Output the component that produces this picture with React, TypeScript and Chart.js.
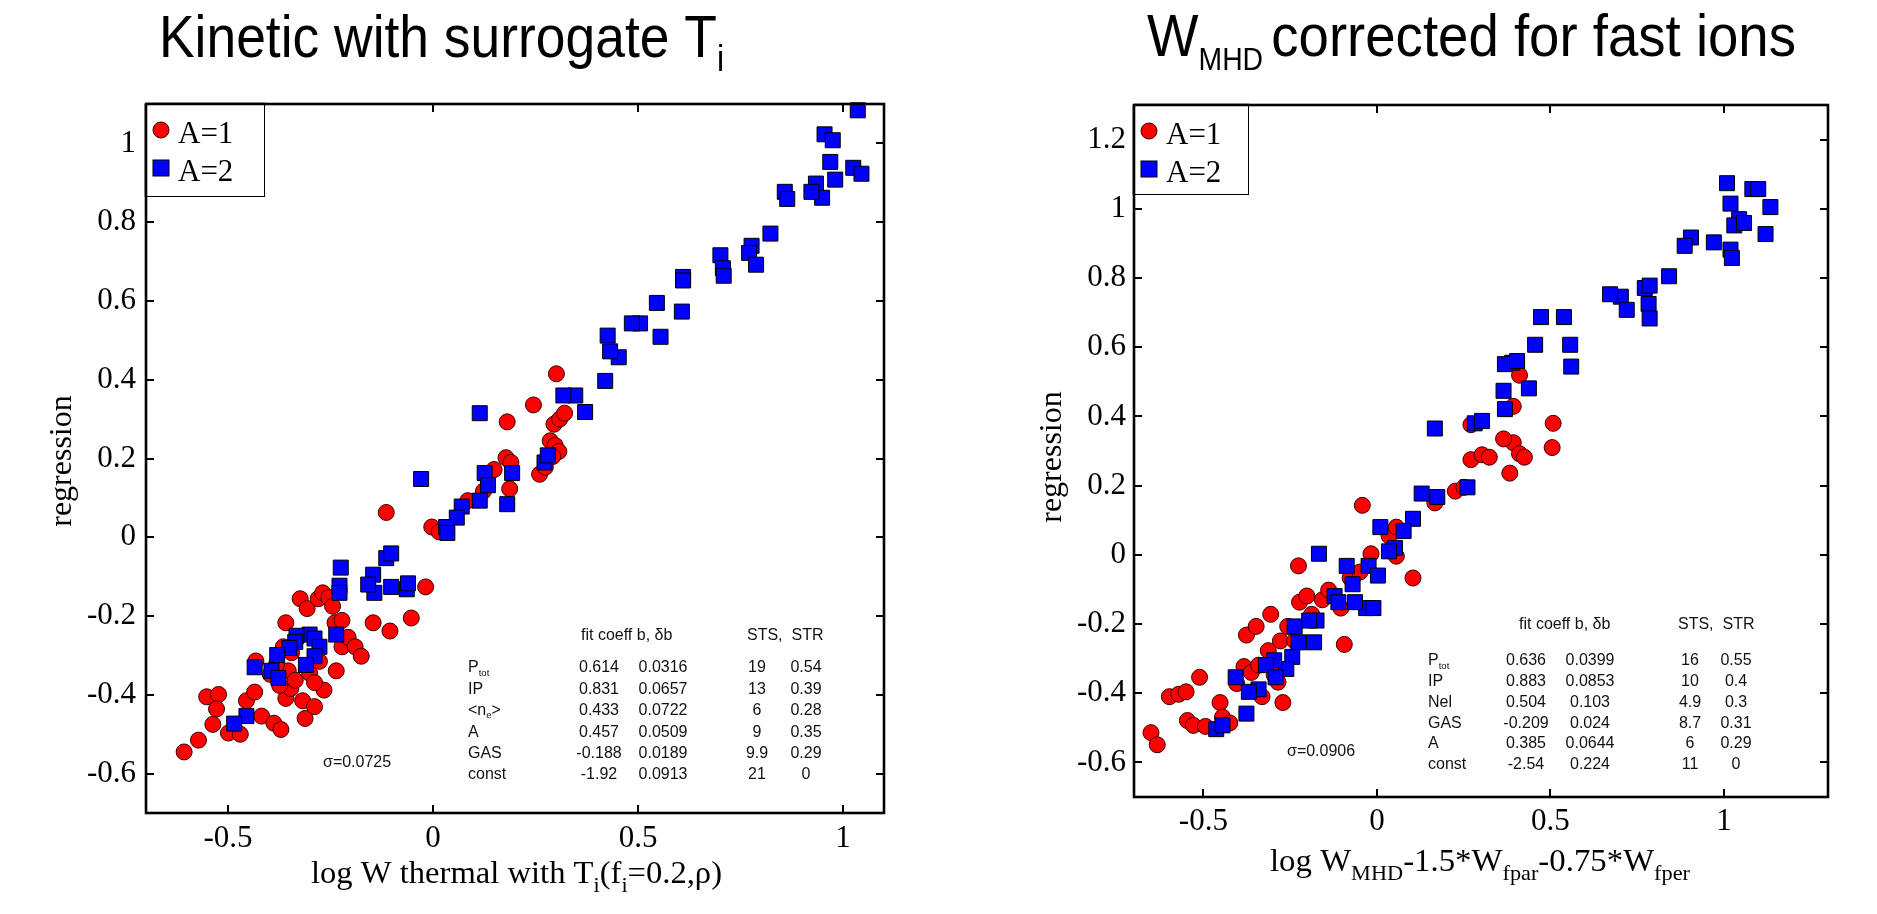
import React, { useEffect, useRef } from "react";
import { Chart, registerables } from "chart.js";

Chart.register(...registerables);

// ---------------- DATA ----------------
// Left panel: "Kinetic with surrogate Ti"  [x = log W thermal, y = regression]
const leftA1: [number, number][] = [
  [-0.607, -0.545], [-0.572, -0.515], [-0.537, -0.475], [-0.499, -0.497], [-0.47, -0.5],
  [-0.552, -0.405], [-0.523, -0.399], [-0.528, -0.436], [-0.455, -0.415], [-0.435, -0.393],
  [-0.418, -0.454], [-0.388, -0.472], [-0.371, -0.488], [-0.359, -0.409], [-0.347, -0.384],
  [-0.353, -0.339], [-0.365, -0.278], [-0.345, -0.293], [-0.33, -0.254], [-0.359, -0.217],
  [-0.324, -0.156], [-0.307, -0.181], [-0.301, -0.345], [-0.312, -0.46], [-0.28, -0.156],
  [-0.269, -0.141], [-0.254, -0.153], [-0.245, -0.175], [-0.239, -0.217], [-0.222, -0.278],
  [-0.277, -0.315], [-0.266, -0.388], [-0.289, -0.369], [-0.236, -0.339], [-0.207, -0.254],
  [-0.19, -0.278], [-0.175, -0.302], [-0.146, -0.217], [-0.114, 0.063], [-0.105, -0.238],
  [-0.053, -0.205], [-0.018, -0.126], [-0.003, 0.026], [0.015, 0.014], [0.085, 0.093],
  [0.123, 0.117], [0.187, 0.123], [0.181, 0.293], [0.245, 0.336], [0.26, 0.16],
  [0.274, 0.178], [0.286, 0.245], [0.298, 0.233], [0.307, 0.218], [0.292, 0.205],
  [0.295, 0.287], [0.309, 0.3], [0.301, 0.415], [0.321, 0.315], [0.178, 0.202],
  [0.19, 0.19], [0.149, 0.172], [-0.432, -0.314], [-0.397, -0.348], [-0.382, -0.324],
  [-0.374, -0.376], [-0.336, -0.363], [-0.318, -0.415], [-0.289, -0.43], [-0.222, -0.211],
];
const leftA2: [number, number][] = [
  [1.036, 1.084], [0.955, 1.023], [0.975, 1.008], [1.025, 0.938], [0.969, 0.953],
  [1.045, 0.923], [0.981, 0.908], [0.934, 0.898], [0.949, 0.862], [0.923, 0.877],
  [0.858, 0.877], [0.864, 0.859], [0.823, 0.771], [0.777, 0.74], [0.771, 0.722],
  [0.701, 0.716], [0.707, 0.683], [0.709, 0.664], [0.788, 0.692], [0.61, 0.661],
  [0.61, 0.652], [0.607, 0.573], [0.546, 0.595], [0.555, 0.509], [0.505, 0.543],
  [0.485, 0.543], [0.453, 0.457], [0.432, 0.472], [0.426, 0.512], [0.42, 0.397],
  [0.371, 0.318], [0.347, 0.36], [0.318, 0.36], [0.272, 0.19], [0.28, 0.208],
  [0.193, 0.163], [0.181, 0.084], [0.114, 0.315], [0.126, 0.163], [0.134, 0.132],
  [0.114, 0.093], [0.07, 0.078], [0.058, 0.05], [0.032, 0.026], [0.035, 0.011],
  [-0.029, 0.148], [-0.064, -0.132], [-0.061, -0.117], [-0.102, -0.126], [-0.114, -0.053],
  [-0.102, -0.041], [-0.146, -0.095], [-0.143, -0.141], [-0.225, -0.077], [-0.228, -0.123],
  [-0.228, -0.141], [-0.158, -0.12], [-0.301, -0.247], [-0.289, -0.257], [-0.277, -0.278],
  [-0.333, -0.25], [-0.336, -0.266], [-0.35, -0.281], [-0.289, -0.302], [-0.38, -0.299],
  [-0.394, -0.339], [-0.377, -0.357], [-0.435, -0.33], [-0.455, -0.454], [-0.485, -0.473],
  [-0.236, -0.247], [-0.31, -0.324],
];

// Right panel: "W_MHD corrected for fast ions"
const rightA1: [number, number][] = [
  [-0.651, -0.514], [-0.633, -0.549], [-0.598, -0.41], [-0.571, -0.403], [-0.55, -0.396],
  [-0.546, -0.479], [-0.529, -0.493], [-0.494, -0.496], [-0.511, -0.354], [-0.452, -0.427],
  [-0.445, -0.469], [-0.424, -0.486], [-0.404, -0.372], [-0.383, -0.323], [-0.362, -0.34],
  [-0.348, -0.393], [-0.331, -0.41], [-0.341, -0.319], [-0.313, -0.277], [-0.296, -0.347],
  [-0.285, -0.368], [-0.271, -0.427], [-0.278, -0.249], [-0.257, -0.207], [-0.237, -0.249],
  [-0.223, -0.137], [-0.202, -0.119], [-0.226, -0.032], [-0.188, -0.172], [-0.157, -0.13],
  [-0.139, -0.102], [-0.104, -0.154], [-0.094, -0.259], [-0.077, -0.067], [-0.049, -0.05],
  [-0.017, 0.003], [-0.042, 0.143], [0.035, 0.055], [0.056, 0.08], [0.104, -0.067],
  [0.056, -0.004], [0.167, 0.15], [0.226, 0.184], [0.251, 0.195], [0.271, 0.275],
  [0.271, 0.376], [0.303, 0.289], [0.324, 0.282], [0.383, 0.236], [0.393, 0.324],
  [0.411, 0.292], [0.425, 0.282], [0.393, 0.429], [0.411, 0.519], [0.508, 0.38],
  [0.505, 0.31], [0.365, 0.335], [-0.306, -0.172], [-0.376, -0.232], [-0.348, -0.207],
];
const rightA2: [number, number][] = [
  [1.009, 1.074], [1.082, 1.057], [1.099, 1.057], [1.019, 1.015], [1.134, 1.005],
  [1.044, 0.97], [1.03, 0.952], [1.058, 0.959], [0.971, 0.903], [1.019, 0.882],
  [1.023, 0.858], [1.12, 0.927], [0.905, 0.917], [0.887, 0.893], [0.842, 0.805],
  [0.772, 0.771], [0.786, 0.778], [0.783, 0.725], [0.703, 0.746], [0.672, 0.753],
  [0.72, 0.708], [0.786, 0.683], [0.539, 0.687], [0.473, 0.687], [0.456, 0.607],
  [0.557, 0.607], [0.56, 0.544], [0.39, 0.555], [0.369, 0.551], [0.404, 0.56],
  [0.438, 0.481], [0.365, 0.474], [0.369, 0.421], [0.282, 0.38], [0.303, 0.387],
  [0.167, 0.365], [0.174, 0.167], [0.261, 0.195], [0.129, 0.177], [0.104, 0.104],
  [0.077, 0.069], [0.052, 0.02], [0.035, 0.01], [0.01, 0.08], [-0.024, -0.032],
  [0.003, -0.06], [-0.031, -0.154], [-0.01, -0.154], [-0.063, -0.137], [-0.087, -0.032],
  [-0.122, -0.119], [-0.111, -0.137], [-0.167, 0.003], [-0.174, -0.19], [-0.181, -0.253],
  [-0.226, -0.253], [-0.244, -0.295], [-0.261, -0.33], [-0.296, -0.305], [-0.32, -0.319],
  [-0.292, -0.354], [-0.341, -0.389], [-0.369, -0.396], [-0.376, -0.459], [-0.407, -0.354],
  [-0.463, -0.504], [-0.445, -0.493], [-0.237, -0.207], [-0.195, -0.19], [-0.07, -0.085],
];

const leftXTicks = [-0.5, 0, 0.5, 1];
const leftYTicks = [-0.6, -0.4, -0.2, 0, 0.2, 0.4, 0.6, 0.8, 1];
const rightXTicks = [-0.5, 0, 0.5, 1];
const rightYTicks = [-0.6, -0.4, -0.2, 0, 0.2, 0.4, 0.6, 0.8, 1, 1.2];

const legendLabels = ["A=1", "A=2"];

const leftTableVars = ["P_{tot}", "IP", "<n_{e}>", "A", "GAS", "const"];
const leftCoefB = ["0.614", "0.831", "0.433", "0.457", "-0.188", "-1.92"];
const leftDeltaB = ["0.0316", "0.0657", "0.0722", "0.0509", "0.0189", "0.0913"];
const leftSTS = ["19", "13", "6", "9", "9.9", "21"];
const leftSTR = ["0.54", "0.39", "0.28", "0.35", "0.29", "0"];
const leftSigma = "σ=0.0725";

const rightTableVars = ["P_{tot}", "IP", "Nel", "GAS", "A", "const"];
const rightCoefB = ["0.636", "0.883", "0.504", "-0.209", "0.385", "-2.54"];
const rightDeltaB = ["0.0399", "0.0853", "0.103", "0.024", "0.0644", "0.224"];
const rightSTS = ["16", "10", "4.9", "8.7", "6", "11"];
const rightSTR = ["0.55", "0.4", "0.3", "0.31", "0.29", "0"];
const rightSigma = "σ=0.0906";

const tableHeader1 = "fit coeff b, δb";
const tableHeader2 = "STS,  STR";

const leftTitle = "Kinetic with surrogate T_{i}";
const rightTitle = "W_{MHD}corrected for fast ions";
const leftXLabel = "log W thermal with T_{i}(f_{i}=0.2,ρ)";
const rightXLabel = "log W_{MHD}-1.5*W_{fpar}-0.75*W_{fper}";
const yLabel = "regression";

// ---------------- DRAW HELPERS ----------------
const SERIF = "'Liberation Serif', 'Times New Roman', serif";
const SANS = "'Liberation Sans', Arial, sans-serif";

type Piece = { t: string; sub: boolean };
function parseRich(s: string): Piece[] {
  const out: Piece[] = [];
  const re = /_\{([^}]*)\}/g;
  let last = 0;
  let m: RegExpExecArray | null;
  while ((m = re.exec(s))) {
    if (m.index > last) out.push({ t: s.slice(last, m.index), sub: false });
    out.push({ t: m[1], sub: true });
    last = m.index + m[0].length;
  }
  if (last < s.length) out.push({ t: s.slice(last), sub: false });
  return out;
}

type RichOpt = {
  size: number;
  family: string;
  subScale?: number;
  subDy?: number;
  targetWidth?: number;
  align?: "left" | "center";
  rotate?: boolean;
  baseline?: CanvasTextBaseline;
  color?: string;
  gapAfterSub?: number;
};

function drawRich(ctx: CanvasRenderingContext2D, s: string, x: number, y: number, o: RichOpt) {
  const pieces = parseRich(s);
  const subSize = o.size * (o.subScale ?? 0.65);
  const subDy = o.subDy ?? o.size * 0.28;
  const gap = o.gapAfterSub ?? 0;
  ctx.save();
  ctx.fillStyle = o.color ?? "#000";
  ctx.textAlign = "left";
  ctx.textBaseline = o.baseline ?? "alphabetic";
  let total = 0;
  const widths = pieces.map((p) => {
    ctx.font = `${p.sub ? subSize : o.size}px ${o.family}`;
    const w = ctx.measureText(p.t).width + (p.sub ? gap : 0);
    total += w;
    return w;
  });
  const sx = o.targetWidth ? o.targetWidth / total : 1;
  ctx.translate(x, y);
  if (o.rotate) ctx.rotate(-Math.PI / 2);
  if (o.align === "center") ctx.translate((-total * sx) / 2, 0);
  ctx.scale(sx, 1);
  let cx = 0;
  pieces.forEach((p, i) => {
    ctx.font = `${p.sub ? subSize : o.size}px ${o.family}`;
    ctx.fillText(p.t, cx, p.sub ? subDy : 0);
    cx += widths[i];
  });
  ctx.restore();
}

function drawCircle(ctx: CanvasRenderingContext2D, x: number, y: number, r: number) {
  ctx.beginPath();
  ctx.arc(x, y, r, 0, Math.PI * 2);
  ctx.fillStyle = "#ff0000";
  ctx.fill();
  ctx.lineWidth = 1;
  ctx.strokeStyle = "#3a0000";
  ctx.stroke();
}
function drawSquare(ctx: CanvasRenderingContext2D, x: number, y: number, side: number) {
  ctx.fillStyle = "#0000ff";
  ctx.fillRect(x - side / 2, y - side / 2, side, side);
  ctx.lineWidth = 1;
  ctx.strokeStyle = "#000";
  ctx.strokeRect(x - side / 2, y - side / 2, side, side);
}

// ---------------- PANEL CONFIG ----------------
type Panel = {
  offset: number;
  cw: number;
  area: [number, number, number, number];
  xr: [number, number];
  yr: [number, number];
  xTicks: number[];
  yTicks: number[];
  a1: [number, number][];
  a2: [number, number][];
  title: string;
  titlePos: [number, number, number];
  titleSub: number;
  titleGap: number;
  xLabel: string;
  xLabelPos: [number, number, number];
  yLabelPos: [number, number];
  yTickPad: number;
  xTickPad: number;
  legendSize: [number, number];
  table: {
    vars: string[];
    cols: string[][];
    headerY: number;
    header1X: number;
    header2X: number;
    row0: number;
    rowDy: number;
    varX: number;
    colX: number[];
    sigma: string;
    sigmaPos: [number, number];
  };
};

const panels: Panel[] = [
  {
    offset: 0,
    cw: 938,
    area: [146, 104, 884, 813],
    xr: [-0.7, 1.1],
    yr: [-0.7, 1.1],
    xTicks: leftXTicks,
    yTicks: leftYTicks,
    a1: leftA1,
    a2: leftA2,
    title: leftTitle,
    titlePos: [159, 57, 565],
    titleSub: 0.6,
    titleGap: 0,
    xLabel: leftXLabel,
    xLabelPos: [311, 883, 411],
    yLabelPos: [63, 461],
    yTickPad: 10,
    xTickPad: 7,
    legendSize: [118, 92],
    table: {
      vars: leftTableVars,
      cols: [leftCoefB, leftDeltaB, leftSTS, leftSTR],
      headerY: 636,
      header1X: 581,
      header2X: 747,
      row0: 668,
      rowDy: 21.4,
      varX: 468,
      colX: [599, 663, 757, 806],
      sigma: leftSigma,
      sigmaPos: [323, 763],
    },
  },
  {
    offset: 938,
    cw: 939,
    area: [1134, 105, 1828, 797],
    xr: [-0.7, 1.3],
    yr: [-0.7, 1.3],
    xTicks: rightXTicks,
    yTicks: rightYTicks,
    a1: rightA1,
    a2: rightA2,
    title: rightTitle,
    titlePos: [1147, 56, 649],
    titleSub: 0.52,
    titleGap: 9,
    xLabel: rightXLabel,
    xLabelPos: [1270, 871, 420],
    yLabelPos: [1053, 457],
    yTickPad: 8,
    xTickPad: 6,
    legendSize: [114, 89],
    table: {
      vars: rightTableVars,
      cols: [rightCoefB, rightDeltaB, rightSTS, rightSTR],
      headerY: 625,
      header1X: 1519,
      header2X: 1678,
      row0: 661,
      rowDy: 20.7,
      varX: 1428,
      colX: [1526, 1590, 1690, 1736],
      sigma: rightSigma,
      sigmaPos: [1287, 752],
    },
  },
];

const fmt = (v: number) => String(Math.round(v * 100) / 100);

function makePlugin(p: Panel) {
  const o = p.offset;
  return {
    id: "panelDecor",
    beforeDraw(chart: any) {
      const ctx: CanvasRenderingContext2D = chart.ctx;
      ctx.save();
      ctx.fillStyle = "#fff";
      ctx.fillRect(0, 0, chart.width, chart.height);
      ctx.restore();
    },
    afterDatasetsDraw(chart: any) {
      const ctx: CanvasRenderingContext2D = chart.ctx;
      const { left, top, right, bottom } = chart.chartArea;
      const xs = chart.scales.x;
      const ys = chart.scales.y;
      ctx.save();
      ctx.strokeStyle = "#000";
      ctx.lineWidth = 2;
      ctx.beginPath();
      xs.ticks.forEach((t: any) => {
        const px = Math.round(xs.getPixelForValue(t.value));
        ctx.moveTo(px, bottom);
        ctx.lineTo(px, bottom - 8);
        ctx.moveTo(px, top);
        ctx.lineTo(px, top + 8);
      });
      ys.ticks.forEach((t: any) => {
        const py = Math.round(ys.getPixelForValue(t.value));
        ctx.moveTo(left, py);
        ctx.lineTo(left + 8, py);
        ctx.moveTo(right, py);
        ctx.lineTo(right - 8, py);
      });
      ctx.stroke();
      ctx.lineWidth = 2.6;
      ctx.strokeRect(left, top, right - left, bottom - top);
      ctx.restore();
    },
    afterDraw(chart: any) {
      const ctx: CanvasRenderingContext2D = chart.ctx;
      const { left, top } = chart.chartArea;
      // legend
      const [lw, lh] = p.legendSize;
      ctx.save();
      ctx.fillStyle = "#fff";
      ctx.fillRect(left, top, lw, lh);
      ctx.lineWidth = 1;
      ctx.strokeStyle = "#000";
      ctx.strokeRect(left + 0.5, top + 0.5, lw, lh);
      ctx.lineWidth = 2.6;
      ctx.beginPath();
      ctx.moveTo(left, top);
      ctx.lineTo(left + lw + 1, top);
      ctx.moveTo(left, top);
      ctx.lineTo(left, top + lh + 1);
      ctx.stroke();
      drawCircle(ctx, left + 15, top + 26, 8);
      drawSquare(ctx, left + 15, top + 64, 16);
      ctx.fillStyle = "#000";
      ctx.font = `31px ${SERIF}`;
      ctx.textBaseline = "alphabetic";
      ctx.textAlign = "left";
      ctx.fillText(legendLabels[0], left + 32, top + 39);
      ctx.fillText(legendLabels[1], left + 32, top + 77);
      ctx.restore();

      // title (condensed sans)
      drawRich(ctx, p.title, p.titlePos[0] - o, p.titlePos[1], {
        size: 60,
        family: SANS,
        subScale: p.titleSub,
        subDy: 14,
        targetWidth: p.titlePos[2],
        gapAfterSub: p.titleGap,
      });
      // x label
      drawRich(ctx, p.xLabel, p.xLabelPos[0] - o, p.xLabelPos[1], {
        size: 32,
        family: SERIF,
        subScale: 0.68,
        subDy: 9,
        targetWidth: p.xLabelPos[2],
      });
      // y label
      drawRich(ctx, yLabel, p.yLabelPos[0] - o, p.yLabelPos[1], {
        size: 32,
        family: SERIF,
        align: "center",
        rotate: true,
        baseline: "middle",
      });

      // table
      const tb = p.table;
      ctx.save();
      ctx.fillStyle = "#111";
      ctx.font = `16px ${SANS}`;
      ctx.textBaseline = "middle";
      ctx.textAlign = "left";
      ctx.fillText(tableHeader1, tb.header1X - o, tb.headerY);
      ctx.fillText(tableHeader2, tb.header2X - o, tb.headerY);
      tb.vars.forEach((v, i) => {
        const y = tb.row0 + i * tb.rowDy;
        drawRich(ctx, v, tb.varX - o, y, {
          size: 16,
          family: SANS,
          subScale: 0.6,
          subDy: 5,
          baseline: "middle",
          color: "#111",
        });
        ctx.font = `16px ${SANS}`;
        ctx.fillStyle = "#111";
        ctx.textAlign = "center";
        tb.cols.forEach((col, j) => {
          ctx.fillText(col[i], tb.colX[j] - o, y);
        });
        ctx.textAlign = "left";
      });
      ctx.font = `16px ${SANS}`;
      ctx.fillText(tb.sigma, tb.sigmaPos[0] - o, tb.sigmaPos[1]);
      ctx.restore();
    },
  };
}

function PanelChart({ p }: { p: Panel }) {
  const ref = useRef<HTMLCanvasElement | null>(null);
  useEffect(() => {
    if (!ref.current) return;
    const yW = 80;
    const xH = 60;
    const [al, at, ar, ab] = p.area;
    const chart = new Chart(ref.current, {
      type: "scatter",
      data: {
        datasets: [
          {
            label: legendLabels[1],
            data: p.a2.map(([x, y]) => ({ x, y })),
            pointStyle: "rect",
            pointRadius: 10.6,
            pointHoverRadius: 10.6,
            backgroundColor: "#0000ff",
            borderColor: "#000",
            borderWidth: 1,
            order: 0,
            clip: false,
          } as any,
          {
            label: legendLabels[0],
            data: p.a1.map(([x, y]) => ({ x, y })),
            pointStyle: "circle",
            pointRadius: 8,
            pointHoverRadius: 8,
            backgroundColor: "#ff0000",
            borderColor: "#3a0000",
            borderWidth: 1,
            order: 1,
            clip: false,
          } as any,
        ],
      },
      options: {
        animation: false,
        responsive: false,
        devicePixelRatio: 1,
        events: [],
        layout: {
          padding: {
            left: al - p.offset - yW,
            top: at,
            right: p.offset + p.cw - ar,
            bottom: 914 - ab - xH,
          },
        },
        plugins: {
          legend: { display: false },
          tooltip: { enabled: false },
          title: { display: false },
        },
        scales: {
          x: {
            type: "linear",
            position: "bottom",
            min: p.xr[0],
            max: p.xr[1],
            grid: { display: false, drawTicks: false },
            border: { display: false },
            ticks: {
              color: "#000",
              font: { family: SERIF, size: 31 },
              padding: p.xTickPad,
              autoSkip: false,
              maxRotation: 0,
              includeBounds: false,
              callback: (v: any) => fmt(Number(v)),
            },
            afterBuildTicks: (s: any) => {
              s.ticks = p.xTicks.map((v) => ({ value: v }));
            },
            afterFit: (s: any) => {
              s.height = xH;
            },
          },
          y: {
            type: "linear",
            position: "left",
            min: p.yr[0],
            max: p.yr[1],
            grid: { display: false, drawTicks: false },
            border: { display: false },
            ticks: {
              color: "#000",
              font: { family: SERIF, size: 31 },
              padding: p.yTickPad,
              autoSkip: false,
              includeBounds: false,
              callback: (v: any) => fmt(Number(v)),
            },
            afterBuildTicks: (s: any) => {
              s.ticks = p.yTicks.map((v) => ({ value: v }));
            },
            afterFit: (s: any) => {
              s.width = yW;
            },
          },
        },
      } as any,
      plugins: [makePlugin(p)],
    });
    return () => chart.destroy();
  }, [p]);
  return (
    <canvas
      ref={ref}
      width={p.cw}
      height={914}
      style={{ position: "absolute", left: p.offset, top: 0, width: p.cw, height: 914 }}
    />
  );
}

export default function App() {
  return (
    <div
      style={{
        position: "fixed",
        left: 0,
        top: 0,
        width: 1877,
        height: 914,
        background: "#fff",
        overflow: "hidden",
      }}
    >
      {panels.map((p, i) => (
        <PanelChart key={i} p={p} />
      ))}
    </div>
  );
}
